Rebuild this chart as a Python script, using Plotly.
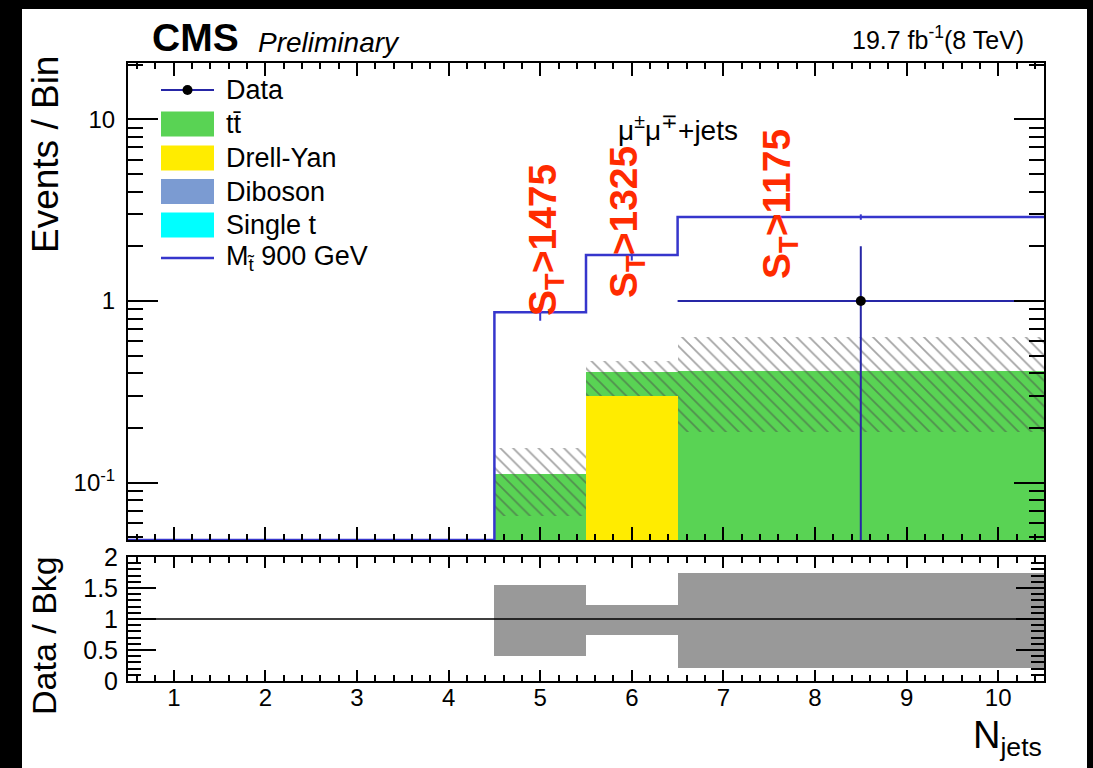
import plotly.graph_objects as go

# ---- binning in N_jets (the last bin merges 7-10 jets) ----
bin_lo = [4.5, 5.5, 6.5]
bin_hi = [5.5, 6.5, 10.5]

# ---- background yields per bin ----
ttbar = [0.112, 0.109, 0.412]
drellyan = [0.0, 0.300, 0.0]
diboson = [0.0, 0.0, 0.0]
single_t = [0.0, 0.0, 0.0]

# total-background uncertainty band (lower / upper edge)
bkg_band_lo = [0.066, 0.300, 0.190]
bkg_band_hi = [0.155, 0.469, 0.634]

# ---- signal: M_stop = 900 GeV ----
signal = [0.869, 1.79, 2.90]
signal_err = [0.09, 0.12, 0.10]

# ---- observed data ----
data_x = [8.5]
data_y = [1.0]
data_err = [1.0]
data_xerr = [2.0]

# ---- data / background uncertainty band in the ratio pad ----
ratio_lo = [0.40, 0.74, 0.21]
ratio_hi = [1.55, 1.23, 1.74]

# S_T thresholds written above the bins
st_labels = ["S<sub>T</sub>>1475", "S<sub>T</sub>>1325", "S<sub>T</sub>>1175"]

legend_items = ["Data", "tt\u0304", "Drell-Yan", "Diboson", "Single t", "M<sub>t\u0303</sub> 900 GeV"]

# ---------------------------------------------------------------
W, H = 1093, 768
FONT = "Liberation Sans, Arial, sans-serif"

C_TT = "#59d354"
C_DY = "#ffec00"
C_VV = "#7b9bd2"
C_ST = "#00ffff"
C_SIG = "#3636cc"
C_DATA = "#2626a6"
C_RED = "#ff2b00"

YMIN, YMAX = -1.315, 1.31  # log10 range of the main pad


def px(x):
    return x / W


def py(y):
    return 1 - y / H


centers = [(a + b) / 2 for a, b in zip(bin_lo, bin_hi)]
widths = [b - a for a, b in zip(bin_lo, bin_hi)]


def nz(v):
    return [x if x > 0 else None for x in v]


# cumulative stack, bottom to top: single t, diboson, Drell-Yan, ttbar
c1 = list(single_t)
c2 = [a + b for a, b in zip(c1, diboson)]
c3 = [a + b for a, b in zip(c2, drellyan)]
c4 = [a + b for a, b in zip(c3, ttbar)]

fig = go.Figure()

for vals, col in [(c4, C_TT), (c3, C_DY), (c2, C_VV), (c1, C_ST)]:
    fig.add_trace(go.Bar(x=centers, y=nz(vals), width=widths, marker=dict(color=col, line=dict(width=0)),
                         xaxis="x", yaxis="y", showlegend=False, hoverinfo="skip"))

# hatched uncertainty band
fig.add_trace(go.Bar(
    x=centers, y=[h - l for l, h in zip(bkg_band_lo, bkg_band_hi)], base=bkg_band_lo, width=widths,
    marker=dict(color="rgba(0,0,0,0)", line=dict(width=0),
                pattern=dict(shape="\\", fgcolor="#4a4a4a", bgcolor="rgba(0,0,0,0)", size=9, solidity=0.2,
                             fillmode="overlay")),
    xaxis="x", yaxis="y", showlegend=False, hoverinfo="skip"))

# signal histogram as a step line (empty bins sit on the lower edge)
floor = 10 ** YMIN
step_x = [0.5] + bin_lo + [bin_hi[-1]]
step_y = [floor] + signal + [signal[-1]]
fig.add_trace(go.Scatter(x=step_x, y=step_y, mode="lines", line=dict(color=C_SIG, width=2.5, shape="hv"),
                         xaxis="x", yaxis="y", showlegend=False, hoverinfo="skip"))
fig.add_trace(go.Scatter(x=centers, y=signal, mode="markers", marker=dict(size=1, color=C_SIG),
                         error_y=dict(type="data", array=signal_err, color=C_SIG, thickness=2, width=0),
                         xaxis="x", yaxis="y", showlegend=False, hoverinfo="skip"))

# data points
fig.add_trace(go.Scatter(x=data_x, y=data_y, mode="markers", marker=dict(size=10, color="black"),
                         error_y=dict(type="data", array=data_err, color=C_DATA, thickness=2, width=0),
                         error_x=dict(type="data", array=data_xerr, color=C_DATA, thickness=2, width=0),
                         xaxis="x", yaxis="y", showlegend=False, hoverinfo="skip"))

# ratio pad band
fig.add_trace(go.Bar(x=centers, y=[h - l for l, h in zip(ratio_lo, ratio_hi)], base=ratio_lo, width=widths,
                     marker=dict(color="#999999", line=dict(width=0)),
                     xaxis="x2", yaxis="y2", showlegend=False, hoverinfo="skip"))

XD = [px(128), px(1044)]
tick_common = dict(ticks="inside", tickcolor="black", showline=True, linecolor="black", linewidth=2,
                   mirror="allticks", showgrid=False, zeroline=False, automargin=False)

log_minor = [v * 10 ** e for e in (-2, -1, 0, 1) for v in range(2, 10)]
log_minor = [v for v in log_minor if 10 ** YMIN <= v <= 10 ** YMAX]

fig.update_layout(
    width=W, height=H, margin=dict(l=0, r=0, t=0, b=0, pad=0, autoexpand=False),
    paper_bgcolor="black", plot_bgcolor="white",
    barmode="overlay", bargap=0, showlegend=False,
    font=dict(family=FONT, color="black"),
    xaxis=dict(domain=XD, anchor="y", range=[0.5, 10.5], showticklabels=False, tick0=0, dtick=1,
               ticklen=13, tickwidth=2,
               minor=dict(ticks="inside", tick0=0, dtick=0.2, ticklen=6, tickwidth=1.5, tickcolor="black"),
               **tick_common),
    yaxis=dict(domain=[py(540), py(63)], anchor="x", type="log", range=[YMIN, YMAX],
               tickvals=[0.1, 1, 10], ticktext=["10<sup>-1</sup>", "1", "10"],
               tickfont=dict(size=24), ticklen=30, tickwidth=2, ticklabelstandoff=6,
               minor=dict(ticks="inside", tickvals=log_minor, ticklen=15, tickwidth=1.5, tickcolor="black"),
               **tick_common),
    xaxis2=dict(domain=XD, anchor="y2", range=[0.5, 10.5], tick0=0, dtick=1, tickfont=dict(size=24),
                ticklen=11, tickwidth=2, ticklabelstandoff=-6,
                minor=dict(ticks="inside", tick0=0, dtick=0.2, ticklen=6, tickwidth=1.5, tickcolor="black"),
                **tick_common),
    yaxis2=dict(domain=[py(681), py(557)], anchor="x2", range=[0, 2],
                tickvals=[0, 0.5, 1, 1.5, 2], ticktext=["0", "0.5", "1", "1.5", "2"],
                tickfont=dict(size=25), ticklen=28, tickwidth=2, ticklabelstandoff=3,
                minor=dict(ticks="inside", tick0=0, dtick=0.1, ticklen=13, tickwidth=1.5, tickcolor="black"),
                **tick_common),
)

shapes = []
# white canvas
shapes.append(dict(type="rect", xref="paper", yref="paper", x0=px(22), x1=px(1087), y0=-0.01, y1=py(9),
                   fillcolor="white", line=dict(width=0), layer="below"))
# unity line in ratio pad
shapes.append(dict(type="line", xref="x2", yref="y2", x0=0.5, x1=10.5, y0=1, y1=1,
                   line=dict(color="black", width=1.5)))

# legend
leg_x0, leg_x1, leg_text_x = 161, 214, 224
row_y = [90, 124, 158, 191.5, 225, 258]
shapes.append(dict(type="line", xref="paper", yref="paper", x0=px(leg_x0), x1=px(leg_x1),
                   y0=py(row_y[0]), y1=py(row_y[0]), line=dict(color=C_DATA, width=2)))
shapes.append(dict(type="circle", xref="paper", yref="paper", x0=px(182.5), x1=px(192.5),
                   y0=py(row_y[0] + 5), y1=py(row_y[0] - 5), fillcolor="black", line=dict(width=0)))
for ry, col in zip(row_y[1:5], [C_TT, C_DY, C_VV, C_ST]):
    shapes.append(dict(type="rect", xref="paper", yref="paper", x0=px(leg_x0), x1=px(leg_x1),
                       y0=py(ry + 12.5), y1=py(ry - 12.5), fillcolor=col, line=dict(width=0)))
shapes.append(dict(type="line", xref="paper", yref="paper", x0=px(leg_x0), x1=px(leg_x1),
                   y0=py(row_y[5]), y1=py(row_y[5]), line=dict(color=C_SIG, width=2.5)))

annotations = []
for ry, txt in zip(row_y, legend_items):
    annotations.append(dict(x=px(leg_text_x), y=py(ry), xref="paper", yref="paper", text=txt,
                            showarrow=False, xanchor="left", yanchor="middle", font=dict(size=27)))

annotations += [
    dict(x=px(150), y=py(37), text="<b>CMS</b>", font=dict(size=39), xanchor="left", yanchor="middle"),
    dict(x=px(256), y=py(42), text="<i>Preliminary</i>", font=dict(size=28), xanchor="left", yanchor="middle"),
    dict(x=px(1026), y=py(38), text="19.7 fb<sup>-1</sup>(8 TeV)", font=dict(size=25), xanchor="right",
         yanchor="middle"),
    dict(x=px(46), y=py(155), text="Events / Bin", font=dict(size=37), textangle=-90, xanchor="center",
         yanchor="middle"),
    dict(x=px(44), y=py(636), text="Data / Bkg", font=dict(size=34), textangle=-90, xanchor="center",
         yanchor="middle"),
    dict(x=px(1044), y=py(764), text="N<sub>jets</sub>", font=dict(size=38), xanchor="right", yanchor="bottom"),
    dict(x=px(616), y=py(128), text="\u03bc<sup>\u00b1</sup>\u03bc<sup>\u2213</sup>+jets", font=dict(size=28),
         xanchor="left", yanchor="middle"),
]
for (cx, cy), txt in zip([(545, 240), (626, 222), (779, 204)], st_labels):
    annotations.append(dict(x=px(cx), y=py(cy), text="<b>" + txt + "</b>", font=dict(size=39, color=C_RED),
                            textangle=-90, xanchor="center", yanchor="middle"))
for a in annotations:
    a.setdefault("xref", "paper")
    a.setdefault("yref", "paper")
    a["showarrow"] = False

fig.update_layout(shapes=shapes, annotations=annotations)
fig.write_html("out.html")
